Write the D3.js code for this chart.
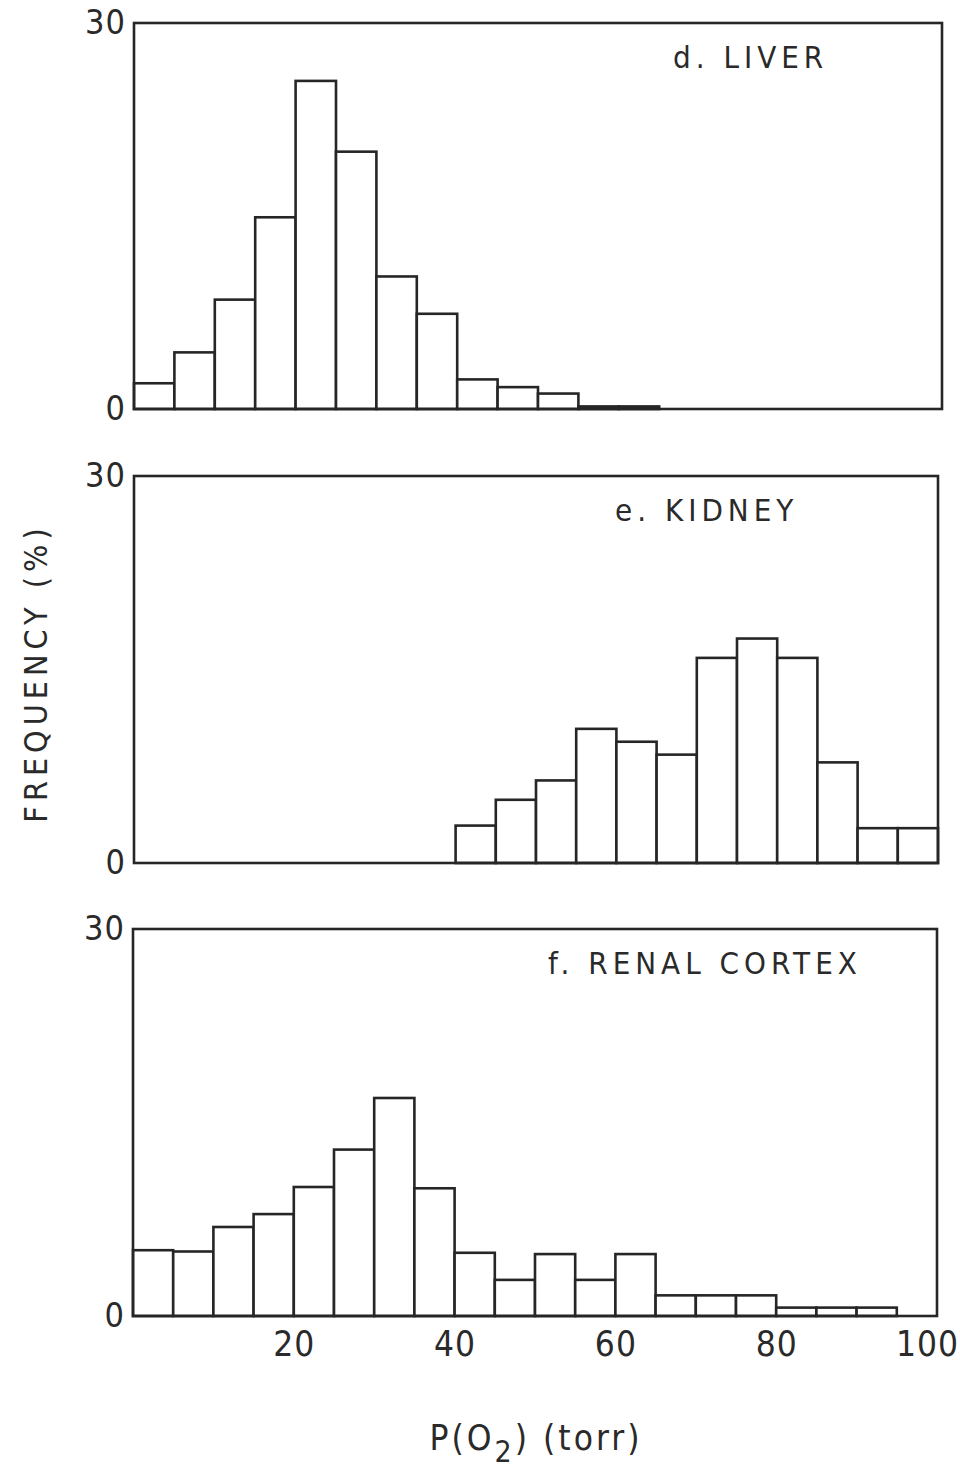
<!DOCTYPE html>
<html>
<head>
<meta charset="utf-8">
<script src="https://cdnjs.cloudflare.com/ajax/libs/d3/7.8.5/d3.min.js"></script>
<style>
    body { margin: 0; background: #fff; }
    text { font-family: "DejaVu Sans Condensed", "DejaVu Sans", sans-serif; fill: #2a2a2a; }
</style>
</head>
<body>
<div class="myChart"></div>
<script>
// lower edge of each 5 torr bin
const bins = [0, 5, 10, 15, 20, 25, 30, 35, 40, 45, 50, 55, 60, 65, 70, 75, 80, 85, 90, 95];
const binWidth = 5;

// frequency (%) per bin
const liver  = [2.0, 4.4, 8.5, 14.9, 25.5, 20.0, 10.3, 7.4, 2.3, 1.7, 1.2, 0.2, 0.2, 0, 0, 0, 0, 0, 0, 0];
const kidney = [0, 0, 0, 0, 0, 0, 0, 0, 2.9, 4.9, 6.4, 10.4, 9.4, 8.4, 15.9, 17.4, 15.9, 7.8, 2.7, 2.7];
const cortex = [5.1, 5.0, 6.9, 7.9, 10.0, 12.9, 16.9, 9.9, 4.9, 2.8, 4.8, 2.8, 4.8, 1.6, 1.6, 1.6, 0.65, 0.65, 0.65, 0];

const panelNames = ["d. LIVER", "e. KIDNEY", "f. RENAL CORTEX"];
const yTicks = [0, 30];
const xTicks = [20, 40, 60, 80, 100];

const width = 960, height = 1473;
const ink = "#262626";

// frame boxes for the three panels
const panels = [
    {values: liver,  name: panelNames[0], top: 23,  bottom: 409,  left: 134, right: 942, labelX: 673},
    {values: kidney, name: panelNames[1], top: 476, bottom: 863,  left: 134, right: 938, labelX: 615},
    {values: cortex, name: panelNames[2], top: 929, bottom: 1316, left: 133, right: 937, labelX: 548}
];

var svg = d3.select(".myChart").append("svg")
    .attr("width", width).attr("height", height);

panels.forEach(function (p, i) {
    var x = d3.scaleLinear().domain([0, 100]).range([p.left, p.right]);
    var y = d3.scaleLinear().domain([0, 30]).range([p.bottom, p.top]);

    var g = svg.append("g").attr("class", "panel-" + i);

    var data = bins.map((b, j) => ({x0: b, v: p.values[j]})).filter(d => d.v > 0);

    g.selectAll(".bar")
        .data(data)
        .enter().append("rect")
        .attr("class", "bar")
        .attr("x", d => x(d.x0))
        .attr("y", d => y(d.v))
        .attr("width", d => x(d.x0 + binWidth) - x(d.x0))
        .attr("height", d => y(0) - y(d.v))
        .attr("fill", "#fff")
        .attr("stroke", ink)
        .attr("stroke-width", 2.6);

    // frame
    g.append("rect")
        .attr("x", x(0)).attr("y", y(30))
        .attr("width", x(100) - x(0)).attr("height", y(0) - y(30))
        .attr("fill", "none")
        .attr("stroke", ink)
        .attr("stroke-width", 2.6);

    var ya = g.append("g")
        .attr("transform", "translate(" + x(0) + ",0)")
        .call(d3.axisLeft(y).tickValues(yTicks).tickSize(0).tickPadding(8));
    ya.select(".domain").remove();
    ya.selectAll("text")
        .style("font-size", "34px")
        .style("letter-spacing", "1px");

    g.append("text")
        .attr("x", p.labelX)
        .attr("y", y(30) + 45)
        .style("font-size", "31px")
        .style("letter-spacing", "5px")
        .text(p.name);

    if (i === panels.length - 1) {
        var xa = g.append("g")
            .attr("transform", "translate(0," + y(0) + ")")
            .call(d3.axisBottom(x).tickValues(xTicks).tickSize(0).tickPadding(15));
        xa.select(".domain").remove();
        xa.selectAll("text")
            .style("font-size", "35px")
            .style("letter-spacing", "1px")
            .attr("dx", d => d === 100 ? -10 : 0);
    }
});

// y axis title
svg.append("text")
    .attr("transform", "translate(47,673) rotate(-90)")
    .attr("text-anchor", "middle")
    .style("font-size", "32px")
    .style("letter-spacing", "5px")
    .text("FREQUENCY (%)");

// x axis title with subscript
var xt = svg.append("text")
    .attr("x", 536)
    .attr("y", 1450)
    .attr("text-anchor", "middle")
    .style("font-size", "35px")
    .style("letter-spacing", "3px");
xt.append("tspan").text("P(O");
xt.append("tspan").attr("dy", 12).style("font-size", "30px").text("2");
xt.append("tspan").attr("dy", -12).text(")  (torr)");
</script>
</body>
</html>
